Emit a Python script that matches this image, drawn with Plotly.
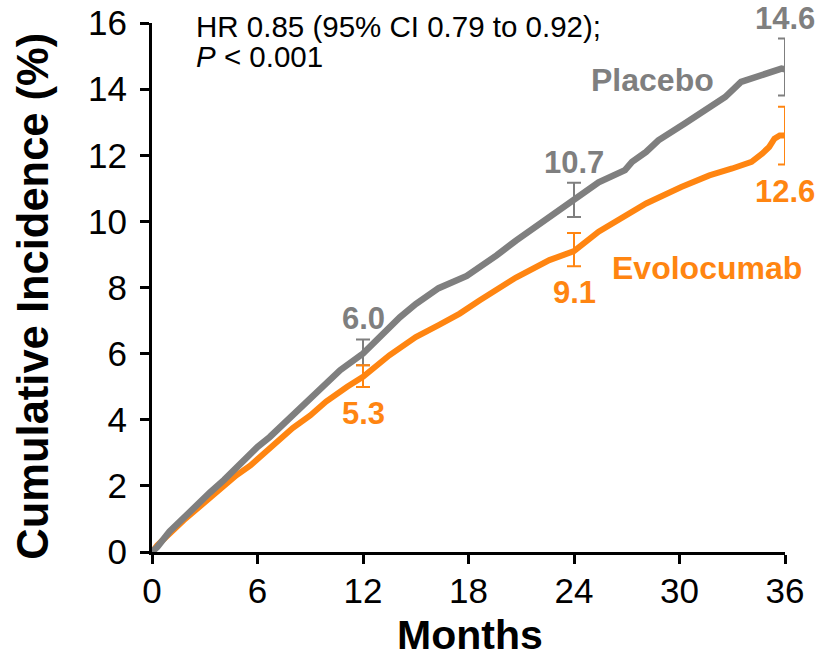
import plotly.graph_objects as go

# Kaplan-Meier style cumulative incidence (%) by month
placebo_months = [0, 0.3, 1.0, 1.8, 2.5, 3.3, 4.1, 5.0, 5.6, 6.0, 6.7, 7.5, 8.2, 9.0, 9.6,
                  10.7, 12.0, 13.1, 14.1, 15.0, 16.3, 17.9, 19.0, 19.6, 20.7, 22.6, 24.0,
                  25.4, 26.9, 27.3, 28.1, 28.8, 30.3, 31.7, 32.6, 33.5, 34.9, 35.8, 36.0]
placebo_pct = [0, 0.15, 0.62, 1.05, 1.36, 1.80, 2.18, 2.65, 2.98, 3.18, 3.48, 3.88, 4.24, 4.66, 4.98,
               5.50, 6.0, 6.60, 7.10, 7.50, 7.98, 8.35, 8.72, 8.97, 9.42, 10.14, 10.7,
               11.18, 11.55, 11.80, 12.10, 12.45, 12.96, 13.47, 13.76, 14.22, 14.47, 14.62, 14.6]

evolo_months = [0, 0.3, 1.8, 3.3, 4.8, 5.6, 6.5, 7.1, 8.0, 9.0, 9.9, 11.1, 12.0, 13.5, 15.0,
                16.3, 17.5, 18.6, 19.8, 20.7, 22.6, 24.0, 25.4, 26.9, 28.1, 30.1, 31.7,
                33.0, 34.1, 34.7, 35.1, 35.4, 35.7, 36.0]
evolo_pct = [0, 0.20, 0.96, 1.66, 2.32, 2.62, 3.03, 3.28, 3.75, 4.13, 4.55, 5.00, 5.3, 5.95, 6.50,
             6.86, 7.21, 7.60, 7.98, 8.30, 8.83, 9.1, 9.69, 10.14, 10.54, 11.04, 11.39,
             11.60, 11.80, 12.05, 12.25, 12.50, 12.60, 12.6]

# Landmark estimates with 95% confidence limits
landmark_months = [12, 24, 36]
placebo_est = [6.0, 10.7, 14.6]
placebo_lo = [5.65, 10.13, 13.81]
placebo_hi = [6.43, 11.17, 15.53]
evolo_est = [5.3, 9.1, 12.6]
evolo_lo = [4.99, 8.64, 11.72]
evolo_hi = [5.65, 9.65, 13.47]

x_ticks = [0, 6, 12, 18, 24, 30, 36]
y_ticks = [0, 2, 4, 6, 8, 10, 12, 14, 16]

GRAY = "#7f7f7f"
ORANGE = "#ff8511"
FONT = "Liberation Sans, Arial, sans-serif"

fig = go.Figure()

fig.add_trace(go.Scatter(x=evolo_months, y=evolo_pct, mode="lines",
                         line=dict(color=ORANGE, width=6), showlegend=False, hoverinfo="skip"))
fig.add_trace(go.Scatter(x=placebo_months, y=placebo_pct, mode="lines",
                         line=dict(color=GRAY, width=6.5), showlegend=False, hoverinfo="skip"))

for est, lo, hi, col in [(placebo_est, placebo_lo, placebo_hi, GRAY),
                         (evolo_est, evolo_lo, evolo_hi, ORANGE)]:
    fig.add_trace(go.Scatter(
        x=landmark_months, y=est, mode="markers",
        marker=dict(size=1, opacity=0, color=col),
        error_y=dict(type="data", symmetric=False,
                     array=[h - e for h, e in zip(hi, est)],
                     arrayminus=[e - l for e, l in zip(est, lo)],
                     color=col, thickness=2, width=7),
        showlegend=False, hoverinfo="skip"))

annotations = []
# value labels: placebo above its upper limit, evolocumab below its lower limit
for m, e, h in zip(landmark_months, placebo_est, placebo_hi):
    annotations.append(dict(x=m, y=h, text=f"{e:.1f}", showarrow=False,
                            xanchor="center", yanchor="bottom", yshift=1,
                            font=dict(family=FONT, size=31, color=GRAY, weight="bold")))
for m, e, l in zip(landmark_months, evolo_est, evolo_lo):
    annotations.append(dict(x=m, y=l, text=f"{e:.1f}", showarrow=False,
                            xanchor="center", yanchor="top", yshift=-7,
                            font=dict(family=FONT, size=31, color=ORANGE, weight="bold")))

annotations += [
    dict(x=28.46, y=14.27, text="Placebo", showarrow=False, xanchor="center", yanchor="middle",
         font=dict(family=FONT, size=32, color=GRAY, weight="bold")),
    dict(x=31.59, y=8.58, text="Evolocumab", showarrow=False, xanchor="center", yanchor="middle",
         font=dict(family=FONT, size=32, color=ORANGE, weight="bold")),
    dict(x=2.46, y=15.88, text="HR 0.85 (95% CI 0.79 to 0.92);", showarrow=False,
         xanchor="left", yanchor="middle", borderpad=0,
         font=dict(family=FONT, size=29.5, color="black")),
    dict(x=2.46, y=14.98, text="<i>P</i> &lt; 0.001", showarrow=False,
         xanchor="left", yanchor="middle", borderpad=0,
         font=dict(family=FONT, size=29.5, color="black")),
    dict(xref="paper", yref="paper", x=-0.1877, y=0.483, text="Cumulative Incidence (%)",
         textangle=-90, showarrow=False, xanchor="center", yanchor="middle",
         font=dict(family=FONT, size=43.5, color="black", weight="bold")),
    dict(xref="paper", yref="paper", x=0.503, y=-0.2025, text="Months",
         showarrow=False, xanchor="center", yanchor="bottom", borderpad=0,
         font=dict(family=FONT, size=41, color="black", weight="bold")),
]

axis_common = dict(showgrid=False, zeroline=False, showline=True, linecolor="black",
                   linewidth=3, ticks="outside", ticklen=9, tickwidth=3, tickcolor="black",
                   automargin=False,
                   tickfont=dict(family=FONT, size=35, color="black"))

fig.update_layout(
    width=818, height=660,
    margin=dict(l=152, r=33, t=23, b=108),
    paper_bgcolor="white", plot_bgcolor="white",
    xaxis=dict(range=[0, 36], tickvals=x_ticks, ticktext=[str(v) for v in x_ticks],
               ticklabelstandoff=-3, **axis_common),
    yaxis=dict(range=[0, 16], tickvals=y_ticks, ticktext=[str(v) for v in y_ticks],
               ticklabelstandoff=6, **axis_common),
    annotations=annotations,
)

fig.write_html("out.html")
